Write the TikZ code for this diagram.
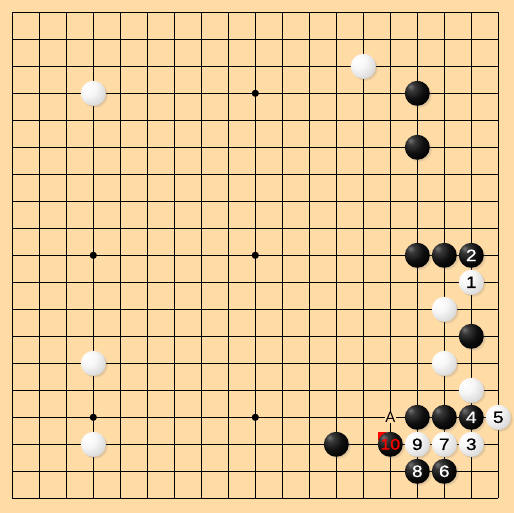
\documentclass[tikz,border=0pt]{standalone}
\usepackage{fontspec}
\setmainfont{Liberation Sans}
\newfontfamily\stonefont[FakeStretch=1.15, FakeBold=0.8]{Liberation Sans}
\usetikzlibrary{shadows}
\definecolor{board}{RGB}{255,219,165}
\pgfdeclareradialshading{blackstone}{\pgfpoint{-14bp}{14bp}}{color(0bp)=(black!55!white); color(8bp)=(black!78!white); color(22bp)=(black!94!white); color(36bp)=(black); color(80bp)=(black)}
\pgfdeclareradialshading{whitestone}{\pgfpoint{-14bp}{14bp}}{color(0bp)=(white); color(16bp)=(white!97!black); color(40bp)=(white!82!black); color(64bp)=(white!66!black); color(80bp)=(white!60!black)}
\tikzset{
  stone/.style={circle, inner sep=0pt, minimum size=25pt, shade,
    font=\stonefont\fontsize{16.5}{16.5}\selectfont,
    drop shadow={opacity=0.12, shadow xshift=2.2pt, shadow yshift=-2.2pt},
    drop shadow={opacity=0.15, shadow xshift=1.2pt, shadow yshift=-1.2pt}},
  bstone/.style={stone, shading=blackstone, text=white},
  wstone/.style={stone, shading=whitestone, text=black},
  gridline/.style={line width=1.1pt, black},
  lastmark/.style={fill=red},
  boardlabel/.style={fill=board, inner sep=0.6pt, font=\fontsize{15}{15}\selectfont}
}
\begin{document}
\begin{tikzpicture}
\fill[board] (0,0) rectangle (514pt,-513pt);
\useasboundingbox (0,0) rectangle (514pt,-513pt);
\begin{scope}[shift={(12.3pt,-12.3pt)}, x=27pt, y=-27pt]
  \foreach \i in {0,...,18} {
    \draw[gridline] (\i,0) -- (\i,18);
    \draw[gridline] (0,\i) -- (18,\i);
  }
  \foreach \i in {3,9,15} \foreach \j in {3,9,15} \fill (\i,\j) circle (3.6pt);
  % label A
  \node[boardlabel] (A) at (14,15) {A};
  % last-move marker
  \coordinate (m) at (14,16);
  \fill[lastmark] ([shift={(-12.3pt,12.3pt)}]m) -- ++(9pt,0) -- ++(-9pt,-9pt) -- cycle;
  % white stones
  \node[wstone] (w1) at (3,3) {};
  \node[wstone] (w2) at (13,2) {};
  \node[wstone] (w3) at (17,10) {1};
  \node[wstone] (w4) at (16,11) {};
  \node[wstone] (w5) at (16,13) {};
  \node[wstone] (w6) at (3,13) {};
  \node[wstone] (w7) at (17,14) {};
  \node[wstone] (w8) at (18,15) {5};
  \node[wstone] (w9) at (3,16) {};
  \node[wstone] (w10) at (15,16) {9};
  \node[wstone] (w11) at (16,16) {7};
  \node[wstone] (w12) at (17,16) {3};
  % black stones
  \node[bstone] (b1) at (15,3) {};
  \node[bstone] (b2) at (15,5) {};
  \node[bstone] (b3) at (15,9) {};
  \node[bstone] (b4) at (16,9) {};
  \node[bstone] (b5) at (17,9) {2};
  \node[bstone] (b6) at (17,12) {};
  \node[bstone] (b7) at (15,15) {};
  \node[bstone] (b8) at (16,15) {};
  \node[bstone] (b9) at (17,15) {4};
  \node[bstone] (b10) at (12,16) {};
  \node[bstone, text=red, font=\stonefont\fontsize{15.5}{15.5}\selectfont] (b11) at (m) {10};
  \node[bstone] (b12) at (15,17) {8};
  \node[bstone] (b13) at (16,17) {6};
\end{scope}
\end{tikzpicture}
\end{document}
